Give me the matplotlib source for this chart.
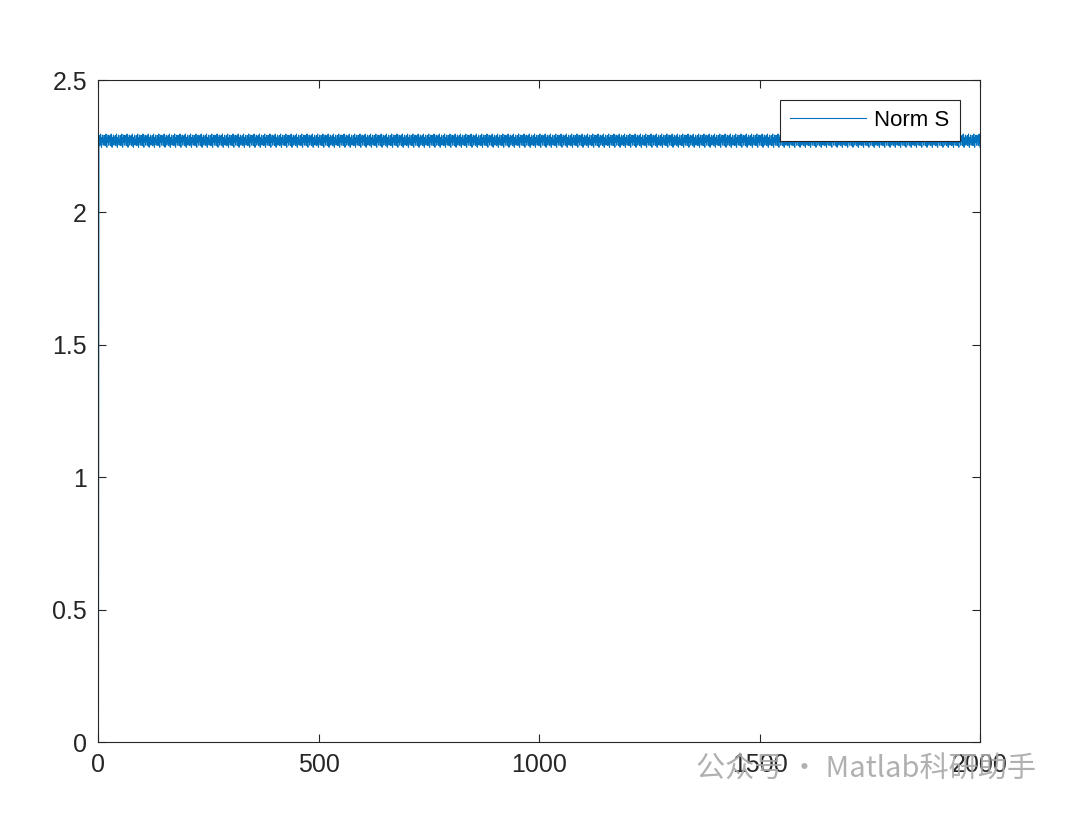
import matplotlib
matplotlib.use("Agg")
import matplotlib.pyplot as plt
import numpy as np

plt.rcParams['font.family'] = ['Liberation Sans', 'DejaVu Sans']

# one period of the steady oscillation
norm_cycle = [2.270, 2.290, 2.252, 2.278, 2.296, 2.260, 2.246, 2.283,
              2.264, 2.292, 2.254, 2.274]
start_value = 0.0
n_steps = 2000
legend_label = 'Norm S'
x_ticks = [0, 500, 1000, 1500, 2000]
y_ticks = [0, 0.5, 1, 1.5, 2, 2.5]
y_tick_labels = ['0', '0.5', '1', '1.5', '2', '2.5']

reps = n_steps // len(norm_cycle) + 1
norm_s = np.concatenate([[start_value], np.tile(norm_cycle, reps)[:n_steps - 1]])
t = np.arange(1, len(norm_s) + 1)

fig = plt.figure(figsize=(10.8, 8.14), dpi=100)
ax = fig.add_axes([98/1080, 1 - 742/814, (980-98)/1080, (742-80)/814])
ax.plot(t, norm_s, color='#0072BD', lw=0.8, label=legend_label)

ax.set_xlim(0, 2000)
ax.set_ylim(0, 2.5)
ax.set_xticks(x_ticks)
ax.set_yticks(y_ticks)
ax.set_yticklabels(y_tick_labels)
ax.tick_params(direction='in', top=True, right=True, labelsize=18,
               colors='#262626', length=6, width=0.8, pad=8)
for s in ax.spines.values():
    s.set_color('#262626')
    s.set_linewidth(0.8)

leg = ax.legend(loc='upper right', fontsize=16, fancybox=False,
                edgecolor='#262626', framealpha=1, handlelength=3.4,
                handletextpad=0.4, borderpad=0.45, borderaxespad=0,
                bbox_to_anchor=(0.977, 0.970))
leg.get_frame().set_linewidth(0.8)

fig.text(0.644, 0.054, '公众号 · Matlab科研助手', fontsize=21, color='#a8a8a8',
         alpha=0.9, family=['Noto Sans CJK SC', 'DejaVu Sans'], va='center')

fig.savefig('out.png', dpi=100)
